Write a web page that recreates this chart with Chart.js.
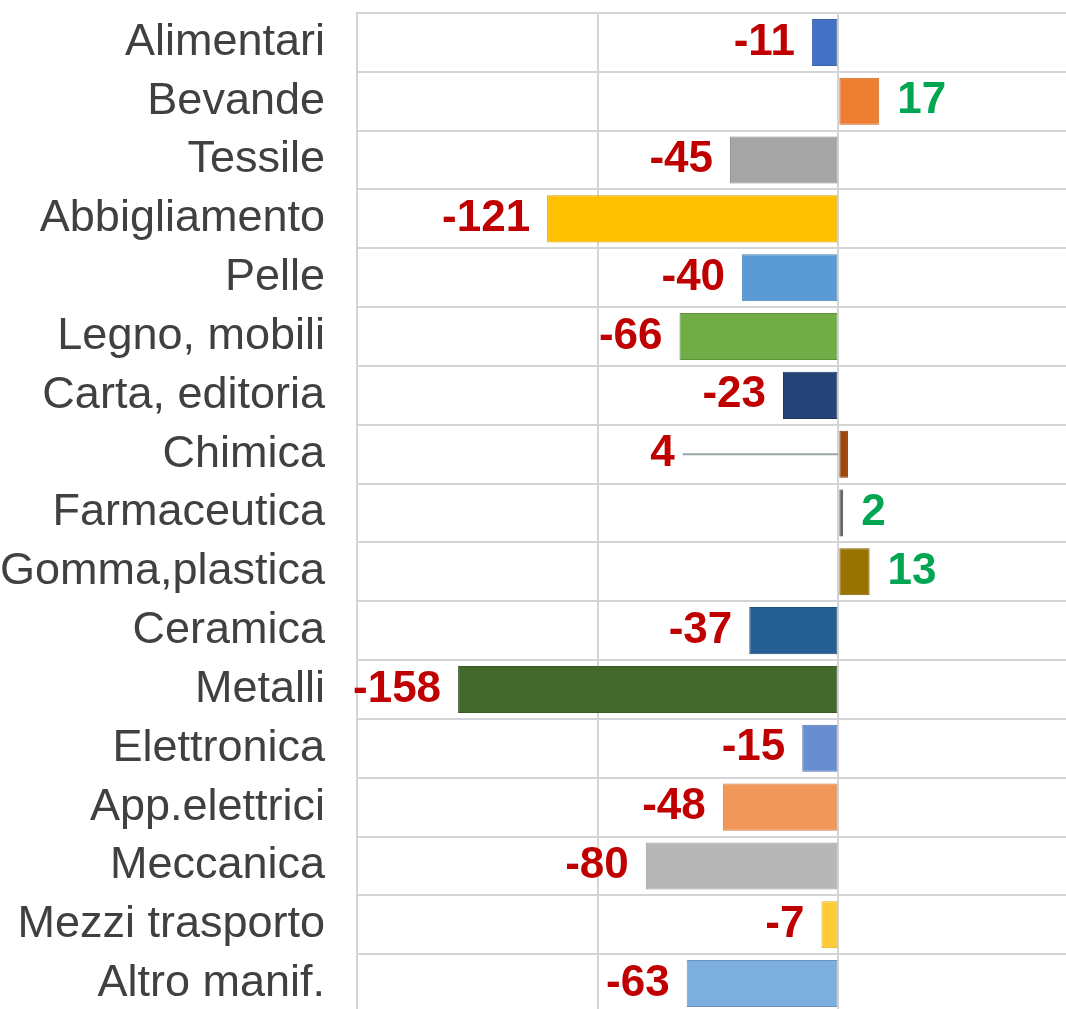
<!DOCTYPE html>
<html>
<head>
<meta charset="utf-8">
<script src="https://cdn.jsdelivr.net/npm/chart.js@4/dist/chart.umd.min.js"></script>
<style>
  html, body { margin: 0; padding: 0; background: #fff; overflow: hidden; }
  #wrap { position: absolute; left: 0; top: 0; width: 1079px; height: 1013px; }
</style>
</head>
<body>
<div id="wrap"><canvas id="chart"></canvas></div>
<script>
const sectors = ['Alimentari', 'Bevande', 'Tessile', 'Abbigliamento', 'Pelle', 'Legno, mobili',
  'Carta, editoria', 'Chimica', 'Farmaceutica', 'Gomma,plastica', 'Ceramica', 'Metalli',
  'Elettronica', 'App.elettrici', 'Meccanica', 'Mezzi trasporto', 'Altro manif.'];
const changes = [-11, 17, -45, -121, -40, -66, -23, 4, 2, 13, -37, -158, -15, -48, -80, -7, -63];
const xTicks = [-200, -100, 0, 100];

const barColors = ['#4472C4', '#ED7D31', '#A5A5A5', '#FFC000', '#5B9BD5', '#70AD47', '#264478',
  '#9E480E', '#636363', '#997300', '#255E91', '#43682B', '#698ED0', '#F1975A', '#B7B7B7',
  '#FFCD33', '#7CAFDD'];
const borderColors = ['#3A62AA', '#C9692A', '#8C8C8C', '#D9A300', '#4D84B5', '#5F933C', '#1F3963',
  '#863D0C', '#545454', '#826200', '#1F5079', '#385824', '#5979B1', '#CD804C', '#9C9C9C',
  '#D9AE2B', '#6995BC'];

const RED = '#C00000';
const GREEN = '#00A651';
const gridColor = '#D4D4D4';

// labels drawn off to the side with a leader line (as in the original)
const leaderLabels = { 'Chimica': -68 };

const valueLabels = {
  id: 'valueLabels',
  afterDatasetsDraw(chart) {
    const ctx = chart.ctx;
    const xs = chart.scales.x;
    const meta = chart.getDatasetMeta(0);
    ctx.save();
    ctx.font = 'bold 44px "Liberation Sans", Arial, sans-serif';
    ctx.textBaseline = 'middle';
    meta.data.forEach((bar, i) => {
      const v = changes[i];
      const name = sectors[i];
      const y = bar.y;
      if (name in leaderLabels) {
        const lx = xs.getPixelForValue(leaderLabels[name]);
        ctx.fillStyle = RED;
        ctx.textAlign = 'right';
        ctx.fillText(String(v), lx, y);
        ctx.strokeStyle = '#9aa5a5';
        ctx.lineWidth = 2;
        ctx.beginPath();
        ctx.moveTo(lx + 8, y);
        ctx.lineTo(xs.getPixelForValue(0), y);
        ctx.stroke();
      } else if (v < 0) {
        ctx.fillStyle = RED;
        ctx.textAlign = 'right';
        ctx.fillText(String(v), bar.x - 17, y);
      } else {
        ctx.fillStyle = GREEN;
        ctx.textAlign = 'left';
        ctx.fillText(String(v), bar.x + 18, y);
      }
    });
    ctx.restore();
  }
};

new Chart(document.getElementById('chart'), {
  type: 'bar',
  data: {
    labels: sectors,
    datasets: [{
      data: changes,
      backgroundColor: barColors,
      borderColor: borderColors,
      borderWidth: 1,
      borderSkipped: false,
      barPercentage: 0.8,
      categoryPercentage: 1.0
    }]
  },
  options: {
    indexAxis: 'y',
    responsive: true,
    maintainAspectRatio: false,
    animation: false,
    devicePixelRatio: 1,
    layout: { padding: { top: 13, left: 0, right: 0, bottom: 0 } },
    plugins: {
      legend: { display: false },
      tooltip: { enabled: false }
    },
    scales: {
      x: {
        min: -200,
        max: 100,
        afterBuildTicks: (scale) => { scale.ticks = xTicks.map(v => ({ value: v })); },
        afterFit: (scale) => { scale.height = 0; scale.paddingLeft = 0; scale.paddingRight = 0; },
        ticks: { display: false },
        grid: { color: gridColor, lineWidth: 2, drawTicks: false },
        border: { display: false }
      },
      y: {
        afterFit: (scale) => { scale.width = 357; scale.paddingTop = 0; scale.paddingBottom = 0; },
        ticks: {
          color: '#404040',
          padding: 32,
          autoSkip: false,
          font: { family: '"Liberation Sans", Arial, sans-serif', size: 45 }
        },
        grid: { color: gridColor, lineWidth: 2, drawTicks: false, offset: true },
        border: { color: gridColor, width: 2 }
      }
    }
  },
  plugins: [valueLabels]
});
</script>
</body>
</html>
